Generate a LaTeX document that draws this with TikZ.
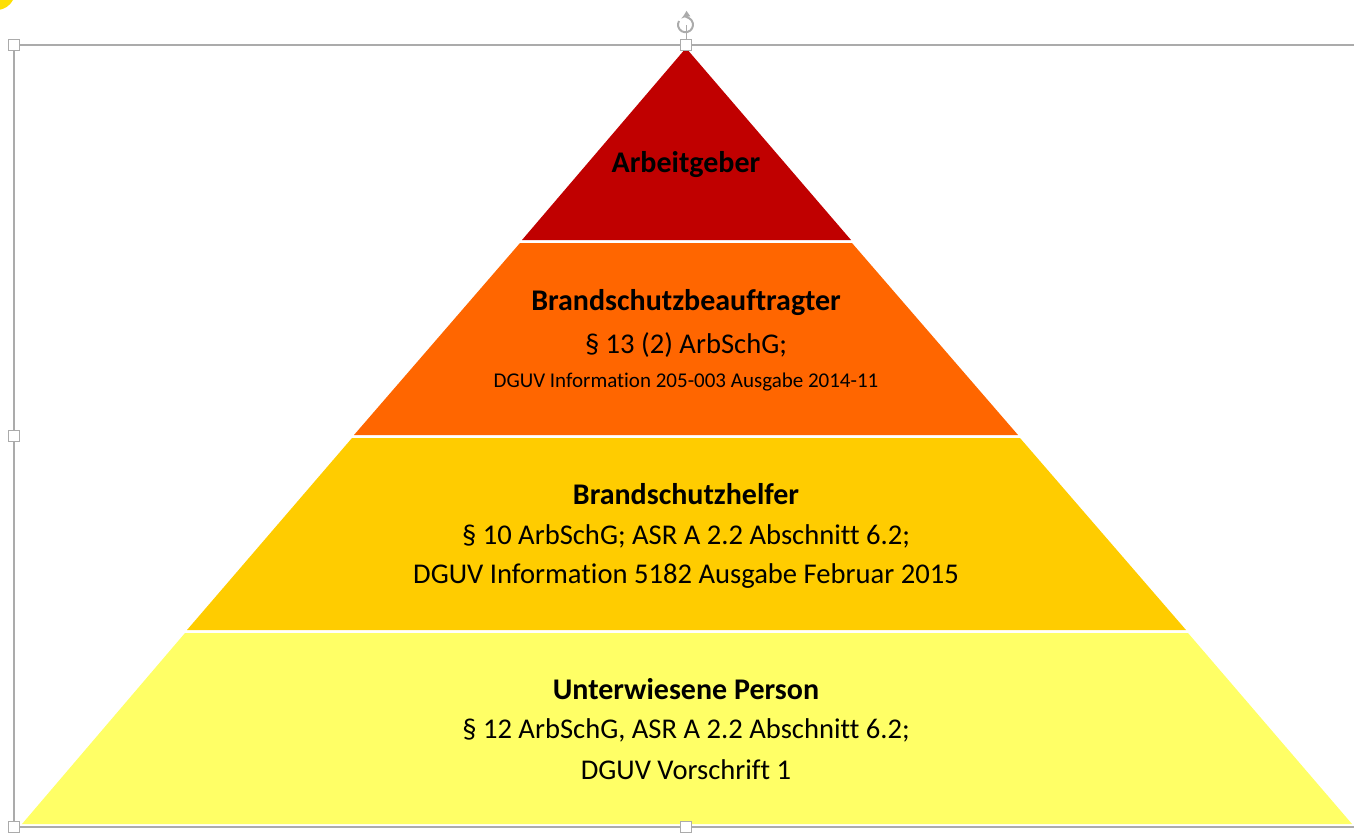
\documentclass[tikz,border=0pt]{standalone}
\usepackage{fontspec}
\setmainfont[Ligatures=NoCommon]{Carlito}
\usetikzlibrary{arrows}
\definecolor{rot}{HTML}{C00000}
\definecolor{orange}{HTML}{FF6600}
\definecolor{gold}{HTML}{FFCC00}
\definecolor{hellgelb}{HTML}{FFFF66}
\definecolor{rahmen}{HTML}{ABABAB}
\tikzstyle{titel} = [font=\fontsize{30}{33}\selectfont\bfseries, text=black, inner sep=0pt]
\tikzstyle{zeile} = [font=\fontsize{28.6}{31}\selectfont, text=black, inner sep=0pt]
\tikzstyle{klein} = [font=\fontsize{21}{24}\selectfont, text=black, inner sep=0pt]
\tikzstyle{griff} = [draw=rahmen, fill=white, line width=1.5pt, minimum size=11pt, inner sep=0pt]
\begin{document}
\begin{tikzpicture}[x=1pt, y=-1pt, node distance=41pt]
\useasboundingbox (0,0) rectangle (1354,833);

% Auswahlrahmen
\draw [rahmen, line width=1.5pt] (14,45) -- (1354,45);
\draw [rahmen, line width=1.5pt] (14,45) -- (14,827) -- (1354,827);
\draw [rahmen, line width=1pt] (686,25) -- (686,45);
\fill [yellow!85!orange] (-1,0) -- (13,0) .. controls (10,6) and (4,9) .. (-1,10) -- cycle;

% Pyramide
\fill [hellgelb] (22,824) -- (1352,824) -- (1188,633) -- (185,633) -- cycle;
\fill [gold] (187,630) -- (1186,630) -- (1020,438) -- (352,438) -- cycle;
\fill [orange] (354,435) -- (1018,435) -- (852,243) -- (520,243) -- cycle;
\fill [rot] (522,240) -- (851,240) -- (686,48) -- cycle;

% Griffe
\node (g1) [griff] at (14,45) {};
\node (g2) [griff] at (686,45) {};
\node (g3) [griff] at (14,436) {};
\node (g4) [griff] at (14,827) {};
\node (g5) [griff] at (686,827) {};
\draw [rahmen, line width=2pt, -latex] (679,21) arc (210:-125:7.5);

% Texte
\node (chef) [titel] at (686,165) {Arbeitgeber};
\node (bsb) [titel] at (686,303) {Brandschutzbeauftragter};
\node (bsb1) [zeile, below of=bsb, yshift=-1pt] {§ 13 (2) ArbSchG;};
\node (bsb2) [klein, below of=bsb1, yshift=4pt] {DGUV Information 205-003 Ausgabe 2014-11};
\node (bsh) [titel] at (686,494) {Brandschutzhelfer};
\node (bsh1) [zeile, below of=bsh, yshift=-1pt] {§ 10 ArbSchG; ASR A 2.2 Abschnitt 6.2;};
\node (bsh2) [zeile, below of=bsh1, yshift=1pt] {DGUV Information 5182 Ausgabe Februar 2015};
\node (up) [titel] at (686,689) {Unterwiesene Person};
\node (up1) [zeile, below of=up] {§ 12 ArbSchG, ASR A 2.2 Abschnitt 6.2;};
\node (up2) [zeile, below of=up1, yshift=1pt] {DGUV Vorschrift 1};

\end{tikzpicture}
\end{document}
